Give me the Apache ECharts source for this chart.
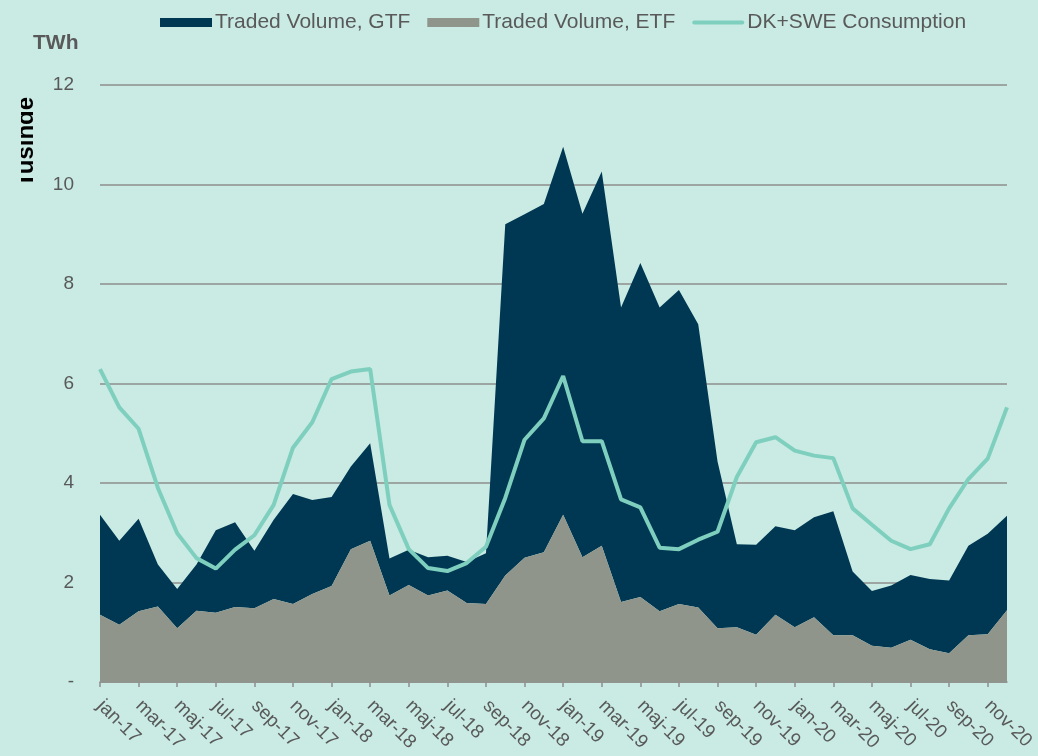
<!DOCTYPE html>
<html>
<head>
<meta charset="utf-8">
<script src="https://cdn.jsdelivr.net/npm/echarts@6/dist/echarts.min.js"></script>
<style>
  html, body { margin: 0; padding: 0; background: #c9ebe4; }
  #chart { width: 1038px; height: 756px; }
</style>
</head>
<body>
<div id="chart"></div>
<script>
const monthNames = ['jan', 'feb', 'mar', 'apr', 'maj', 'jun', 'jul', 'aug', 'sep', 'okt', 'nov', 'dec']
const years = ['17', '18', '19', '20']
const categories = []
years.forEach(y => monthNames.forEach(m => categories.push(m + '-' + y)))

// TWh per month
const etfVolume = [1.35, 1.15, 1.42, 1.52, 1.08, 1.43, 1.39, 1.51, 1.48, 1.67, 1.57, 1.77,
  1.93, 2.67, 2.84, 1.74, 1.95, 1.74, 1.84, 1.59, 1.57, 2.14, 2.50, 2.61,
  3.36, 2.51, 2.74, 1.61, 1.71, 1.42, 1.57, 1.50, 1.08, 1.10, 0.95, 1.35,
  1.10, 1.30, 0.94, 0.94, 0.73, 0.69, 0.85, 0.66, 0.58, 0.94, 0.96, 1.44]

const gtfVolume = [2.01, 1.69, 1.86, 0.84, 0.79, 0.93, 1.66, 1.70, 1.16, 1.59, 2.21, 1.89,
  1.79, 1.66, 1.96, 0.74, 0.71, 0.77, 0.70, 0.82, 1.02, 7.06, 6.90, 7.00,
  7.40, 6.90, 7.52, 5.92, 6.71, 6.11, 6.31, 5.69, 3.35, 1.67, 1.81, 1.78,
  1.95, 2.01, 2.49, 1.28, 1.10, 1.25, 1.30, 1.41, 1.46, 1.80, 2.02, 1.90]

const consumption = [6.29, 5.52, 5.09, 3.90, 2.99, 2.49, 2.28, 2.66, 2.95, 3.56, 4.71, 5.22,
  6.09, 6.24, 6.29, 3.56, 2.67, 2.29, 2.23, 2.39, 2.72, 3.70, 4.87, 5.30,
  6.15, 4.84, 4.84, 3.67, 3.51, 2.70, 2.67, 2.86, 3.02, 4.12, 4.82, 4.92,
  4.65, 4.55, 4.50, 3.49, 3.16, 2.84, 2.67, 2.77, 3.49, 4.08, 4.49, 5.52]

const bg = '#c9ebe4'
const textColor = '#595959'
const gridColor = '#8e8e8e'
const font = 'Liberation Sans, Arial, sans-serif'

const chart = echarts.init(document.getElementById('chart'))

const option = {
  backgroundColor: bg,
  animation: false,
  textStyle: { fontFamily: font },
  legend: {
    top: 7,
    left: 155,
    itemWidth: 52,
    itemHeight: 9,
    itemGap: 17,
    textStyle: { color: textColor, fontSize: 21, padding: [0, 0, 0, -2] },
    data: [
      { name: 'Traded Volume, GTF', icon: 'rect' },
      { name: 'Traded Volume, ETF', icon: 'rect' },
      // thin rounded bar, padded to the full 52x9 box
      { name: 'DK+SWE Consumption', icon: 'path://M0,0 M52,9 M2,2.5 L50,2.5 A2,2 0 0 1 50,6.5 L2,6.5 A2,2 0 0 1 2,2.5 Z' }
    ]
  },
  graphic: [
    {
      type: 'text',
      left: 33,
      top: 33,
      style: { text: 'TWh', fill: textColor, font: 'bold 21px ' + font }
    },
    {
      type: 'text',
      x: 38,
      y: 142,
      rotation: Math.PI / 2,
      z: 1,
      style: {
        text: 'Tusinde',
        fill: '#000',
        font: 'bold 24px ' + font,
        align: 'center',
        verticalAlign: 'bottom'
      }
    },
    {
      // hides the upper part of the cut-off side title
      type: 'rect',
      z: 2,
      shape: { x: 0, y: 88, width: 21, height: 110 },
      style: { fill: bg }
    }
  ],
  grid: {
    left: 100,
    right: 31,
    top: 85,
    bottom: 74,
    containLabel: false
  },
  xAxis: {
    type: 'category',
    data: categories,
    boundaryGap: false,
    axisLine: { lineStyle: { color: gridColor, width: 1.5 } },
    axisTick: { show: true, interval: 1, length: 5, lineStyle: { color: gridColor, width: 1.5 } },
    axisLabel: {
      interval: 1,
      rotate: -45,
      color: textColor,
      fontSize: 19,
      margin: 21
    },
    splitLine: { show: false }
  },
  yAxis: {
    type: 'value',
    min: 0,
    max: 12,
    interval: 2,
    axisLine: { show: false },
    axisTick: { show: false },
    axisLabel: {
      color: textColor,
      fontSize: 19,
      margin: 26,
      formatter: v => (v === 0 ? '-' : v)
    },
    splitLine: { lineStyle: { color: gridColor, width: 1.5 } }
  },
  series: [
    {
      name: 'Traded Volume, ETF',
      type: 'line',
      stack: 'vol',
      data: etfVolume,
      symbol: 'none',
      lineStyle: { width: 0 },
      itemStyle: { color: '#8f958b' },
      areaStyle: { color: '#8f958b', opacity: 1 },
      z: 2
    },
    {
      name: 'Traded Volume, GTF',
      type: 'line',
      stack: 'vol',
      data: gtfVolume,
      symbol: 'none',
      lineStyle: { width: 0 },
      itemStyle: { color: '#003853' },
      areaStyle: { color: '#003853', opacity: 1 },
      z: 1
    },
    {
      name: 'DK+SWE Consumption',
      type: 'line',
      data: consumption,
      symbol: 'none',
      lineStyle: { color: '#7fcfbf', width: 4 },
      itemStyle: { color: '#7fcfbf' },
      z: 5
    }
  ]
}

chart.setOption(option)
</script>
</body>
</html>
